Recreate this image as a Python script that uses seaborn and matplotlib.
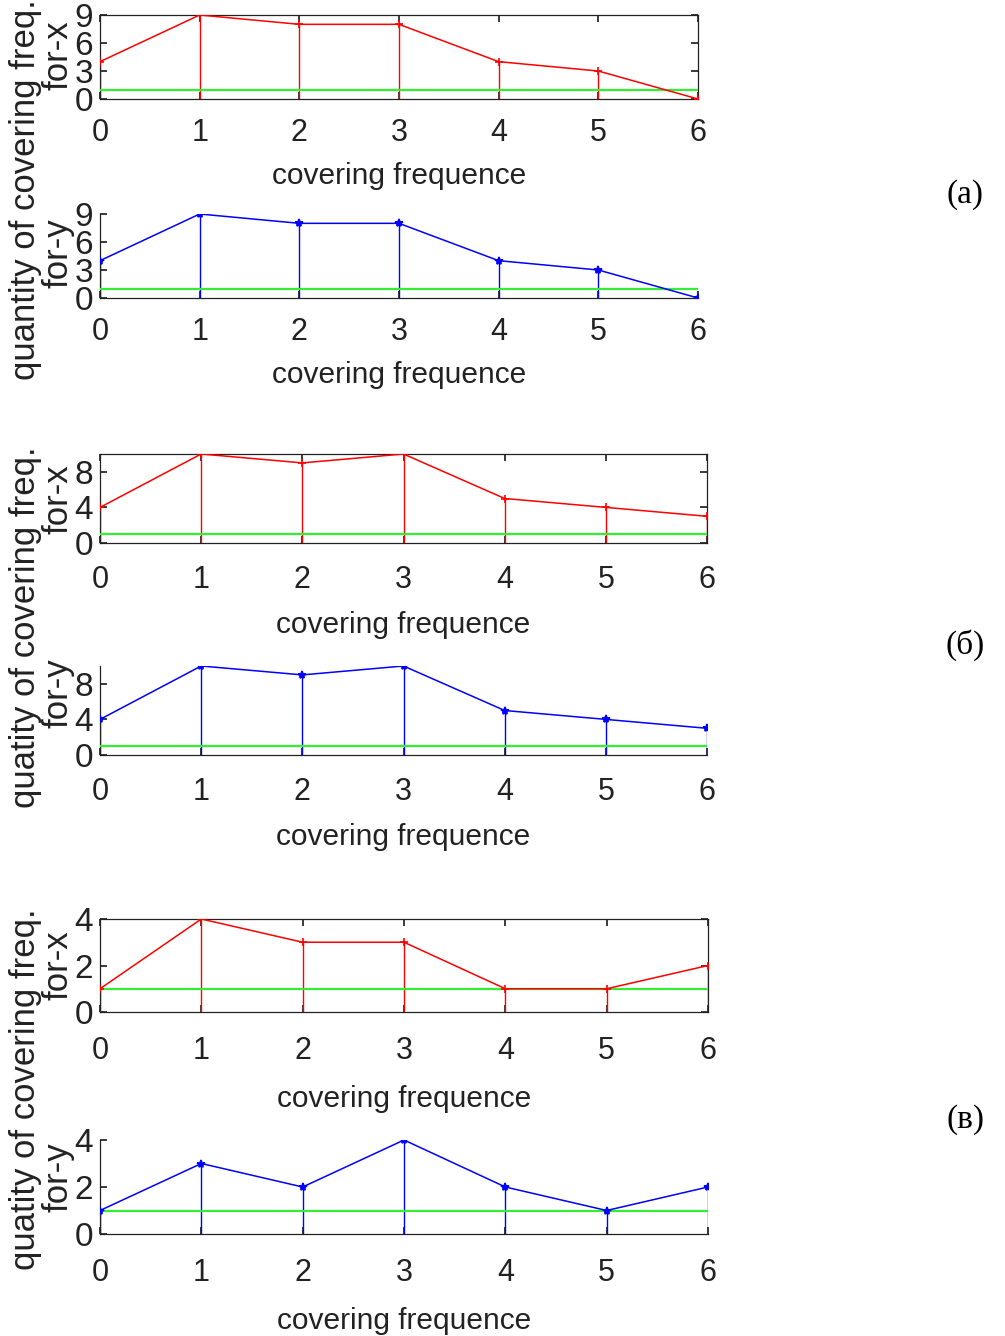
import matplotlib
matplotlib.use("Agg")
import matplotlib.pyplot as plt
import seaborn as sns
import pandas as pd

# ---------------- data ----------------
freq = [0, 1, 2, 3, 4, 5, 6]
a_x = [4, 9, 8, 8, 4, 3, 0]
a_y = [4, 9, 8, 8, 4, 3, 0]
b_x = [4, 10, 9, 10, 5, 4, 3]
b_y = [4, 10, 9, 10, 5, 4, 3]
c_x = [1, 4, 3, 3, 1, 1, 2]
c_y = [1, 3, 2, 4, 2, 1, 2]
threshold = 1
ylims = [9, 9, 10, 10, 4, 4]
yticks_list = [[0, 3, 6, 9], [0, 3, 6, 9], [0, 4, 8], [0, 4, 8], [0, 2, 4], [0, 2, 4]]
xlabel_text = "covering frequence"
group_labels_big = ["quantity of covering freq.", "quatity of covering freq.", "quatity of covering freq."]
sub_labels = ["for-x", "for-y"]
panel_tags = ["(a)", "(б)", "(в)"]

sns.set_theme(style="white")
plt.rcParams['font.family'] = ['Liberation Sans', 'DejaVu Sans']

W, H = 1005, 1336
fig = plt.figure(figsize=(W / 100, H / 100), dpi=100)

# axes boxes in pixels: left, right, top, bottom
boxes = [
    (100, 698, 15, 99),
    (100, 698, 214, 298),
    (100, 707, 454, 543),
    (100, 707, 666, 755),
    (100, 708, 919, 1012),
    (100, 708, 1140, 1234),
]
tick_pads = [14, 14, 16, 16, 17, 17]
label_pads = [10, 10, 11.5, 11.5, 14, 14]
series = [a_x, a_y, b_x, b_y, c_x, c_y]

for i, (l, r, t, b) in enumerate(boxes):
    ax = fig.add_axes([l / W, 1 - b / H, (r - l) / W, (b - t) / H])
    vals = series[i]
    is_x = (i % 2 == 0)
    color = 'red' if is_x else 'blue'
    marker = '+' if is_x else '*'
    df = pd.DataFrame({"freq": freq, "val": vals})
    ax.vlines(df["freq"], 0, df["val"], colors=color, linewidth=1.0, zorder=2)
    ax.axhline(threshold, color='#33ee33', linewidth=1.6, zorder=3)
    sns.lineplot(data=df, x="freq", y="val", color=color, marker=marker,
                 markersize=6, markeredgewidth=1.2, markeredgecolor=color,
                 linewidth=1.1, ax=ax, zorder=4)
    ax.set_xlim(0, 6)
    ax.set_ylim(0, ylims[i])
    ax.set_xticks(freq)
    ax.set_yticks(yticks_list[i])
    ax.set_xticklabels([str(v) for v in freq], fontsize=22)
    ax.set_yticklabels([str(v) for v in yticks_list[i]], fontsize=24)
    ax.set_xlabel(xlabel_text, fontsize=21.5, labelpad=label_pads[i], color='#222222')
    ax.set_ylabel("")
    ax.tick_params(axis='x', direction='in', length=5, pad=tick_pads[i], colors='#222222', labelcolor='#222222')
    ax.tick_params(axis='y', direction='in', length=5, pad=5, colors='#222222', labelcolor='#222222')
    for s in ax.spines.values():
        s.set_color('#222222')
        s.set_linewidth(0.9)
    if is_x:
        ax.tick_params(top=True, right=True, bottom=True, left=True, which='both')
    else:
        ax.spines['top'].set_visible(False)
        ax.spines['right'].set_visible(False)
        ax.tick_params(top=False, right=False, bottom=True, left=True)
    ax.set_facecolor('white')
    if ax.get_legend():
        ax.get_legend().remove()

# big y labels
big_centers = [190, 627, 1089]
for k, yc in enumerate(big_centers):
    fig.text(26 / W, 1 - yc / H, group_labels_big[k], rotation=90, ha='center', va='center',
             fontsize=25, color='#222222')
# sub labels
sub_centers = [55, 253, 499, 693, 965, 1177]
for k, yc in enumerate(sub_centers):
    fig.text(58 / W, 1 - yc / H, sub_labels[k % 2], rotation=90, ha='center', va='center',
             fontsize=25, color='#222222')
# panel tags
tag_centers = [195, 645, 1120]
for k, yc in enumerate(tag_centers):
    fig.text(965 / W, 1 - yc / H, panel_tags[k], ha='center', va='center',
             fontsize=24, family=['Liberation Serif', 'DejaVu Serif'], color='black')

fig.savefig("out.png", dpi=100)
